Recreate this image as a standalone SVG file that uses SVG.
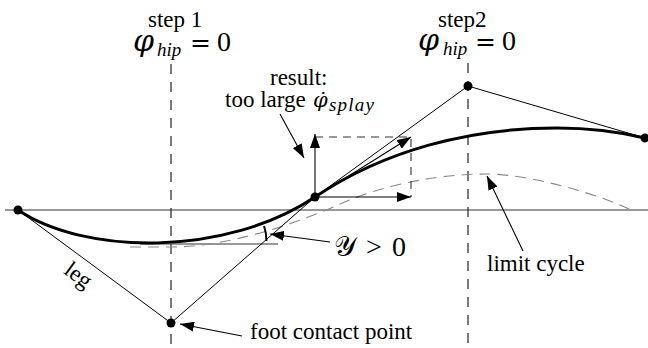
<svg xmlns="http://www.w3.org/2000/svg" width="648" height="348" viewBox="0 0 648 348">
<defs>
<style>
.txt{font-family:"Liberation Serif","Times New Roman",serif;font-size:23px;fill:#000}
.m{font-family:"Liberation Serif","Times New Roman",serif;font-size:28px;fill:#000}
.phi{font-family:"DejaVu Serif",serif;font-style:italic;font-size:30px}
.phis{font-family:"DejaVu Serif",serif;font-style:italic;font-size:21px}
.sub{font-family:"Liberation Serif","Times New Roman",serif;font-style:italic;font-size:19px}
.eq{font-family:"DejaVu Serif",serif;font-size:25px}
.thin{fill:none;stroke:#000;stroke-width:1}
.axis{fill:none;stroke:#333;stroke-width:1.2}
.arrow{fill:none;stroke:#000;stroke-width:1.1;marker-end:url(#ah)}
.dashv{fill:none;stroke:#222;stroke-width:1.2;stroke-dasharray:10 8}
.dashr{fill:none;stroke:#333;stroke-width:1.1;stroke-dasharray:8 6}
.lc{fill:none;stroke:#8a8a8a;stroke-width:1.1;stroke-dasharray:11 7}
.thick{fill:none;stroke:#000;stroke-width:3}
.dot{fill:#000}
</style>
<marker id="ah" markerUnits="userSpaceOnUse" markerWidth="14" markerHeight="10" refX="14" refY="5" orient="auto"><path d="M0,0 L14,5 L0,10 z" fill="#000"/></marker>
</defs>
<rect width="648" height="348" fill="#fff"/>
<g id="connectors">
<path class="axis" d="M5,210 H648"/>
<path class="dashv" d="M171,64 V348"/>
<path class="dashv" d="M468,63 V348"/>
<path class="axis" d="M140,244 H278"/>
<path class="lc" d="M130,247 H171 C230,247 300,222 340,204 C385,184 440,174 487,174 C530,174 600,195 629,209"/>
<path class="thin" d="M18,210 L171,323"/>
<path class="thin" d="M171,323 L315,197 L468,86 L645,138"/>
<path class="thick" d="M18,210 C85,255 225,257 315,197 C385,150 470,128 557,128 C590,128 620,132 645,138"/>
<path class="dashr" d="M315,137 H411 V197"/>
<path class="arrow" d="M315,197 V134"/>
<path class="arrow" d="M315,197 H411"/>
<path class="arrow" d="M315,197 L411,137"/>
<path class="arrow" d="M280,114 L304,158"/>
<path class="arrow" d="M330,242 L270,234"/>
<path class="arrow" d="M523,251 L487,176"/>
<path class="arrow" d="M242,336 L180,324"/>
<path fill="none" stroke="#000" stroke-width="2" d="M264,226 Q266.5,233 266.5,241"/>
</g>
<g id="node-left"><circle class="dot" cx="18" cy="210" r="4.5"/></g>
<g id="node-foot"><circle class="dot" cx="171" cy="323" r="4.5"/></g>
<g id="node-mid"><circle class="dot" cx="315" cy="197" r="4.5"/></g>
<g id="node-top"><circle class="dot" cx="468" cy="86" r="4.5"/></g>
<g id="node-right"><circle class="dot" cx="645" cy="138" r="4.5"/></g>
<g id="label-step1">
<text class="txt" x="148" y="27">step 1</text>
<text class="m"><tspan class="phi" x="133" y="51">φ</tspan><tspan class="sub" x="157" y="56">hip</tspan><tspan class="eq" x="190" y="51">=</tspan><tspan x="217" y="51">0</tspan></text>
</g>
<g id="label-step2">
<text class="txt" x="438" y="27">step2</text>
<text class="m"><tspan class="phi" x="418" y="50">φ</tspan><tspan class="sub" x="443" y="55">hip</tspan><tspan class="eq" x="475" y="50">=</tspan><tspan x="502" y="50">0</tspan></text>
</g>
<g id="label-result">
<text class="txt" x="270" y="85">result:</text>
<text class="txt" y="107"><tspan x="225">too large </tspan><tspan class="phis" x="313">φ̇</tspan><tspan class="sub" x="329" y="111" letter-spacing="1.2">splay</tspan></text>
</g>
<g id="label-Y">
<text class="m"><tspan x="334" y="256">𝒴</tspan><tspan x="366" y="256">&gt;</tspan><tspan x="392" y="256">0</tspan></text>
</g>
<g id="label-limit"><text class="txt" x="487" y="271">limit cycle</text></g>
<g id="label-foot"><text class="txt" x="250" y="339">foot contact point</text></g>
<g id="label-leg"><text class="txt" text-anchor="middle" transform="translate(74,281) rotate(36.4)">leg</text></g>
</svg>
